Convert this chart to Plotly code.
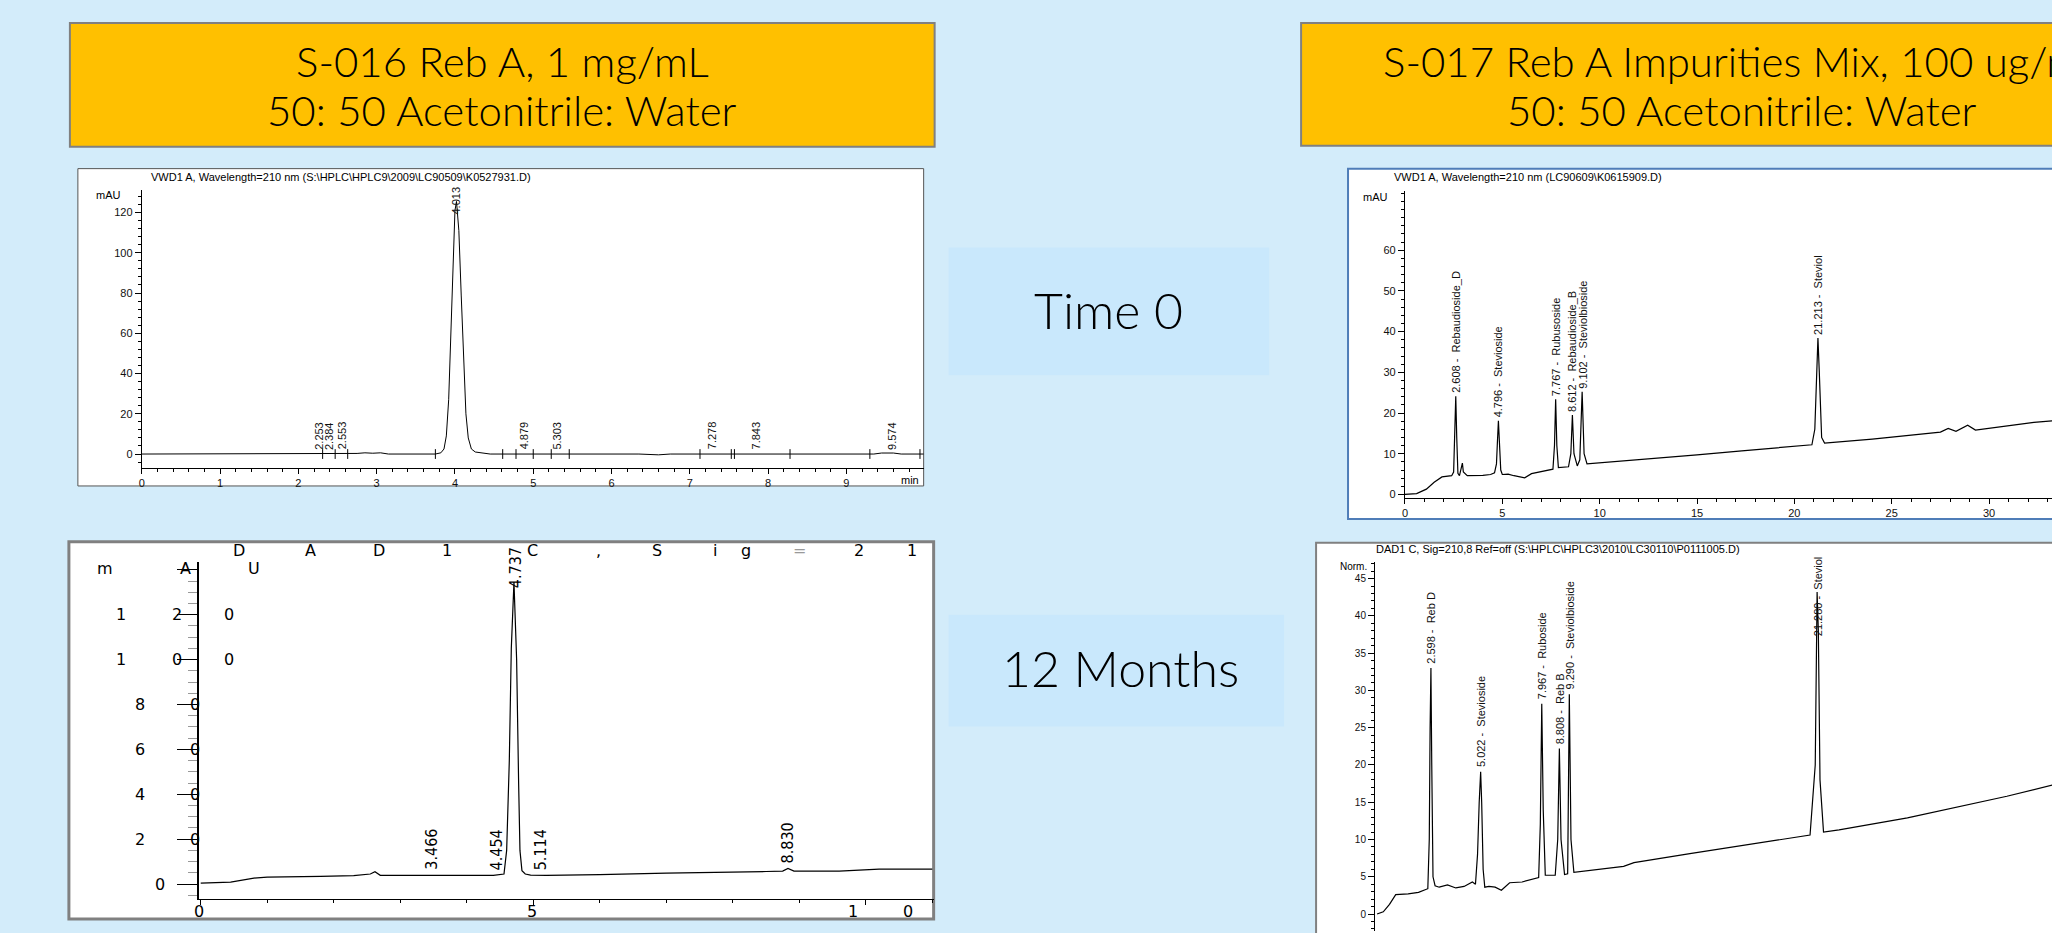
import plotly.graph_objects as go

W, H = 2052, 933

BG = "#D3ECFA"
HEADER_FILL = "#FFC000"
HEADER_EDGE = "#808080"
TAG_FILL = "#C9E8FC"
PLOT_FONT = "Liberation Sans, Arial, sans-serif"
NARROW_FONT = "Liberation Sans Narrow, DejaVu Sans Condensed, Liberation Sans, sans-serif"
WIDE_FONT = "DejaVu Sans, sans-serif"
POSTER_FONT = "Lato, Noto Sans, sans-serif"

# ---- Time 0: S-016 Reb A 1 mg/mL (VWD1 A, 210 nm), minutes / mAU ----
reba_t0_time = [0.0, 2.0, 2.6, 2.75, 2.85, 2.95, 3.05, 3.15, 3.75, 3.82, 3.86, 3.89,
                3.92, 3.95, 3.98, 4.00, 4.02, 4.05, 4.08, 4.11, 4.14, 4.17, 4.21, 4.26,
                4.35, 4.45, 6.35, 6.50, 6.60, 6.75, 9.35, 9.45, 9.60, 9.70, 9.99]
reba_t0_mau = [0.0, 0.0, 0.0, 0.3, 0.6, 0.4, 0.6, 0.0, 0.0, 0.6, 2.5, 9.0,
               27.0, 62.0, 101.0, 121.0, 125.5, 111.0, 79.0, 44.0, 20.0, 8.0, 2.5, 1.0,
               0.4, 0.0, 0.0, -0.4, -0.4, 0.0, 0.0, 0.5, 0.5, 0.0, 0.0]
reba_t0_minor_rt = ["2.253", "2.384", "2.553", "4.879", "5.303", "7.278", "7.843", "9.574"]
reba_t0_main_rt = "4.013"
reba_t0_marks = [2.31, 2.47, 2.63, 3.75, 4.61, 4.78, 5.00, 5.23, 5.46, 7.13, 7.53,
                 7.57, 8.28, 9.30, 9.94]

# ---- 12 months: S-016 Reb A (DAD1 C, Sig=210) ----
reba_12m_time = [0.0, 0.45, 0.8, 1.0, 1.8, 2.3, 2.55, 2.62, 2.70, 3.0, 4.4, 4.56,
                 4.60, 4.64, 4.67, 4.71, 4.75, 4.78, 4.80, 4.83, 4.88, 4.96, 5.2, 6.0,
                 7.0, 8.5, 8.75, 8.83, 8.92, 9.6, 10.2, 11.0]
reba_12m_mau = [0.4, 0.9, 2.7, 3.1, 3.4, 3.8, 4.5, 5.5, 3.9, 3.9, 3.9, 4.5,
                15.0, 55.0, 105.0, 134.5, 100.0, 45.0, 15.0, 6.0, 4.5, 4.0, 3.9, 4.2,
                4.9, 5.6, 5.8, 7.0, 5.8, 5.8, 6.7, 6.7]
reba_12m_minor_rt = ["3.466", "4.454", "5.114", "8.830"]
reba_12m_main_rt = "4.737"

# ---- Time 0: S-017 Reb A impurities mix (VWD1 A, 210 nm) ----
mix_t0_time = [0.0, 0.6, 1.1, 1.5, 1.9, 2.4, 2.50, 2.56, 2.61, 2.66, 2.72, 2.80,
               2.90, 2.95, 3.00, 3.2, 4.0, 4.4, 4.6, 4.70, 4.75, 4.80, 4.85, 4.92,
               5.0, 5.3, 5.6, 6.15, 6.5, 7.6, 7.68, 7.74, 7.80, 7.88, 8.4, 8.52,
               8.60, 8.68, 8.85, 8.98, 9.10, 9.20, 9.35, 12.0, 15.0, 17.3, 20.9, 21.05,
               21.15, 21.21, 21.28, 21.40, 21.55, 24.0, 27.5, 27.9, 28.3, 28.9, 29.3, 30.8,
               32.3, 33.3]
mix_t0_mau = [0.0, 0.2, 1.3, 3.0, 4.3, 4.6, 5.5, 14.0, 24.1, 14.0, 5.2, 4.6,
              6.5, 7.7, 5.5, 4.6, 4.7, 4.9, 5.3, 7.5, 13.0, 18.1, 13.0, 6.0,
              4.9, 5.0, 4.6, 4.1, 5.1, 6.2, 12.0, 23.4, 12.0, 6.6, 6.8, 10.0,
              19.5, 10.0, 7.0, 8.5, 25.2, 10.0, 7.5, 8.5, 9.7, 10.7, 12.2, 16.0,
              32.0, 38.4, 30.0, 14.0, 12.6, 13.6, 15.3, 16.2, 15.5, 17.0, 15.8, 16.8,
              17.7, 18.1]
mix_t0_rt = ["2.608", "4.796", "7.767", "8.612", "9.102", "21.213"]
mix_t0_names = ["Rebaudioside_D", "Stevioside", "Rubusoside", "Rebaudioside_B",
                "Steviolbioside", "Steviol"]

# ---- 12 months: S-017 Reb A impurities mix (DAD1 C, Sig=210,8) ----
mix_12m_time = [0.0, 0.3, 0.6, 0.9, 1.5, 2.0, 2.45, 2.52, 2.56, 2.60, 2.64, 2.70,
                2.80, 3.0, 3.4, 3.8, 4.2, 4.6, 4.75, 4.85, 4.93, 5.00, 5.05, 5.12,
                5.2, 5.4, 5.7, 6.0, 6.4, 7.0, 7.8, 7.88, 7.95, 8.02, 8.12, 8.6,
                8.72, 8.80, 8.88, 9.05, 9.2, 9.28, 9.36, 9.5, 11.9, 12.4, 15.1, 18.0,
                20.9, 21.15, 21.24, 21.30, 21.38, 21.55, 22.3, 25.6, 28.0, 30.4, 32.6]
mix_12m_norm = [0.0, 0.3, 1.3, 2.6, 2.7, 2.9, 3.4, 10.0, 25.0, 33.0, 20.0, 5.0,
                3.8, 3.6, 3.9, 3.5, 3.7, 4.3, 4.0, 8.0, 15.0, 19.1, 15.0, 6.0,
                3.6, 3.7, 3.6, 3.2, 4.2, 4.3, 4.9, 12.0, 28.2, 14.0, 5.2, 5.2,
                10.0, 22.2, 10.0, 5.3, 5.4, 29.5, 10.0, 5.6, 6.4, 6.9, 8.1, 9.3,
                10.6, 20.0, 43.2, 38.0, 18.0, 11.0, 11.3, 12.9, 14.3, 15.8, 17.3]
mix_12m_rt = ["2.598", "5.022", "7.967", "8.808", "9.290", "21.280"]
mix_12m_names = ["Reb D", "Stevioside", "Ruboside", "Reb B", "Steviolbioside", "Steviol"]

fig = go.Figure()


def X(px):
    return px / W


def Y(py):
    return 1 - py / H


def box(x0, y0, x1, y1, fill, edge=None, width=0):
    fig.add_shape(type="rect", xref="paper", yref="paper", layer="below",
                  x0=X(x0), x1=X(x1), y0=Y(y1), y1=Y(y0), fillcolor=fill,
                  line=dict(color=edge or fill, width=width))


def note(s, x, y, size, family=PLOT_FONT, color="black", weight="normal"):
    fig.add_annotation(text=s, x=X(x), y=Y(y), xref="paper", yref="paper",
                       xanchor="center", yanchor="middle", showarrow=False,
                       font=dict(size=size, family=family, color=color, weight=weight))


def level_at(times, values, rt, window=0.15):
    near = [v for t, v in zip(times, values) if abs(t - rt) < window]
    if near:
        return max(near)
    nearest = min(range(len(times)), key=lambda i: abs(times[i] - rt))
    return values[nearest]


def axis(**kw):
    base = dict(showgrid=False, zeroline=False, showline=True, linecolor="black",
                linewidth=1, ticks="outside", tickcolor="black", fixedrange=True,
                tickfont=dict(size=11, family=PLOT_FONT, color="#111"))
    base.update(kw)
    return base


# ---- poster furniture ----
box(67, 23, 933, 147, HEADER_FILL, HEADER_EDGE, 2)
box(1300, 23, 2190, 146, HEADER_FILL, HEADER_EDGE, 2)
note("S-016 Reb A, 1 mg/mL", 500, 61, 42, POSTER_FONT, weight=300)
note("50: 50 Acetonitrile: Water", 500, 110, 42, POSTER_FONT, weight=300)
note("S-017 Reb A Impurities Mix, 100 ug/mL", 1742, 61, 42, POSTER_FONT, weight=300)
note("50: 50 Acetonitrile: Water", 1742, 110, 42, POSTER_FONT, weight=300)

box(947, 248, 1268, 376, TAG_FILL)
box(947, 616, 1283, 728, TAG_FILL)
note("Time 0", 1107, 311, 50, POSTER_FONT, weight=300)
note("12 Months", 1119, 669, 50, POSTER_FONT, weight=300)

# ---- panel 1: time 0, Reb A ----
box(75, 169, 922, 487, "white", "#555555", 1)
note("VWD1 A, Wavelength=210 nm (S:\\HPLC\\HPLC9\\2009\\LC90509\\K0527931.D)",
     338, 177, 11)
note("mAU", 106, 195, 11)
note("min", 908, 481, 11)
fig.add_trace(go.Scatter(x=reba_t0_time, y=reba_t0_mau, mode="lines",
                         line=dict(color="black", width=1), xaxis="x", yaxis="y",
                         showlegend=False, hoverinfo="skip"))
fig.add_trace(go.Scatter(x=reba_t0_marks, y=[0] * len(reba_t0_marks), mode="markers",
                         marker=dict(symbol="line-ns", size=7,
                                     line=dict(color="black", width=1)),
                         xaxis="x", yaxis="y", showlegend=False, hoverinfo="skip"))
for rt in reba_t0_minor_rt:
    fig.add_annotation(text=rt, x=float(rt), y=1.2, xref="x", yref="y", textangle=-90,
                       yanchor="bottom", showarrow=False,
                       font=dict(size=11, family=PLOT_FONT, color="#111"))
fig.add_annotation(text=reba_t0_main_rt, x=float(reba_t0_main_rt), y=118, xref="x",
                   yref="y", textangle=-90, yanchor="bottom", showarrow=False,
                   font=dict(size=11, family=PLOT_FONT, color="#111"))

# ---- panel 2: 12 months, Reb A (stretched print-out) ----
BL_TOP = 563
box(66, 543, 932, 921, "white", HEADER_EDGE, 3)
fig.add_trace(go.Scatter(x=reba_12m_time, y=reba_12m_mau, mode="lines",
                         line=dict(color="black", width=1.2), xaxis="x2", yaxis="y2",
                         showlegend=False, hoverinfo="skip"))
for rt in reba_12m_minor_rt:
    fig.add_annotation(text=rt, x=float(rt), y=level_at(reba_12m_time, reba_12m_mau,
                                                       float(rt), 0.05) + 1.5,
                       xref="x2", yref="y2", textangle=-90, yanchor="bottom",
                       showarrow=False,
                       font=dict(size=16, family=NARROW_FONT, color="black"))
fig.add_annotation(text=reba_12m_main_rt, x=float(reba_12m_main_rt), y=131, xref="x2",
                   yref="y2", textangle=-90, yanchor="bottom", showarrow=False,
                   font=dict(size=16, family=NARROW_FONT, color="black"))
title_chars = ["D", "A", "D", "1", "C", ",", "S", "i", "g", "=", "2", "1"]
title_x = [236, 308, 377, 445, 530, 596, 655, 713, 744, 798, 857, 910]
for ch, cx in zip(title_chars, title_x):
    note(ch, cx, 552, 16, WIDE_FONT, "#999" if ch == "=" else "black")
for ch, cx in zip(["m", "A", "U"], [102, 183, 251]):
    note(ch, cx, 570, 16, WIDE_FONT)
for val in [0, 20, 40, 60, 80, 100, 120]:
    yy = 886 - 2.25 * val
    digits = str(val)
    if val == 0:
        note("0", 157, yy, 16, WIDE_FONT)
    elif val < 100:
        note(digits[0], 137, yy, 16, WIDE_FONT)
        note(digits[1], 192, yy, 16, WIDE_FONT)
    else:
        for ch, cx in zip(digits, [118, 174, 226]):
            note(ch, cx, yy, 16, WIDE_FONT)
note("0", 196, 913, 16, WIDE_FONT)
note("5", 530, 913, 16, WIDE_FONT)
note("1", 851, 913, 16, WIDE_FONT)
note("0", 906, 913, 16, WIDE_FONT)

# ---- panel 3: time 0, impurities mix ----
box(1347, 169, 2100, 520, "white", "#4F7DB8", 2)
note("VWD1 A, Wavelength=210 nm (LC90609\\K0615909.D)", 1527, 177, 11)
note("mAU", 1375, 197, 11)
fig.add_trace(go.Scatter(x=mix_t0_time, y=mix_t0_mau, mode="lines",
                         line=dict(color="black", width=1.2), xaxis="x3", yaxis="y3",
                         showlegend=False, hoverinfo="skip"))
for rt, name in zip(mix_t0_rt, mix_t0_names):
    top = level_at(mix_t0_time, mix_t0_mau, float(rt))
    fig.add_annotation(text=f"{rt} -  {name}", x=float(rt), y=top + 0.3, xref="x3",
                       yref="y3", textangle=-90, yanchor="bottom", showarrow=False,
                       font=dict(size=11, family=PLOT_FONT, color="#111"))

# ---- panel 4: 12 months, impurities mix ----
box(1315, 544, 2100, 940, "white", HEADER_EDGE, 2)
note("DAD1 C, Sig=210,8 Ref=off (S:\\HPLC\\HPLC3\\2010\\LC30110\\P0111005.D)",
     1557, 550, 11)
note("Norm.", 1352, 568, 10)
fig.add_trace(go.Scatter(x=mix_12m_time, y=mix_12m_norm, mode="lines",
                         line=dict(color="black", width=1.2), xaxis="x4", yaxis="y4",
                         showlegend=False, hoverinfo="skip"))
for rt, name in zip(mix_12m_rt, mix_12m_names):
    top = level_at(mix_12m_time, mix_12m_norm, float(rt))
    fig.add_annotation(text=f"{rt} -  {name}", x=float(rt), y=min(top + 0.3, 37),
                       xref="x4", yref="y4", textangle=-90, yanchor="bottom",
                       showarrow=False, font=dict(size=11, family=PLOT_FONT, color="#111"))

fig.update_layout(
    width=W, height=H, margin=dict(l=0, r=0, t=0, b=0),
    paper_bgcolor=BG, plot_bgcolor="rgba(0,0,0,0)", showlegend=False,
    xaxis=axis(domain=[X(139), X(922)], range=[0, 9.987], anchor="y", dtick=1,
               ticklen=5, minor=dict(dtick=0.2, ticklen=3, ticks="outside",
                                     tickcolor="black")),
    yaxis=axis(domain=[Y(469), Y(190)], range=[-6.94, 131.4], anchor="x", dtick=20,
               tick0=0, ticklen=6, minor=dict(dtick=4, tick0=0, ticklen=3,
                                              ticks="outside", tickcolor="black")),
    xaxis2=axis(domain=[X(196), X(932)], range=[-0.03, 11.02], anchor="y2", dtick=5,
                ticklen=5, showticklabels=False,
                minor=dict(dtick=1, ticklen=3, ticks="outside", tickcolor="black")),
    yaxis2=axis(domain=[Y(901), Y(BL_TOP)], range=[(886 - 901) / 2.25, (886 - BL_TOP) / 2.25],
                anchor="x2", dtick=20, tick0=0, ticklen=20, linewidth=2,
                showticklabels=False,
                minor=dict(dtick=5, tick0=0, ticklen=9, ticks="outside",
                           tickcolor="#999999")),
    xaxis3=axis(domain=[X(1404), 1], range=[0, (W - 1404) / 19.5], anchor="y3", dtick=5,
                ticklen=5, minor=dict(dtick=1, ticklen=3, ticks="outside",
                                      tickcolor="black")),
    yaxis3=axis(domain=[Y(499), Y(191)], range=[(495.5 - 499) / 4.08, (495.5 - 191) / 4.08],
                anchor="x3", tickvals=[0, 10, 20, 30, 40, 50, 60], ticklen=6,
                minor=dict(dtick=2, tick0=0, ticklen=3, ticks="outside",
                           tickcolor="black")),
    xaxis4=axis(domain=[X(1374), 1], range=[-0.1, (W - 1376) / 20.75], anchor="y4",
                showline=False, ticks="", showticklabels=False),
    yaxis4=axis(domain=[0, Y(563)], range=[(916 - 933) / 7.47, (916 - 563) / 7.47],
                anchor="x4", tickvals=[0, 5, 10, 15, 20, 25, 30, 35, 40, 45], ticklen=6,
                tickfont=dict(size=10, family=PLOT_FONT, color="#111"),
                minor=dict(dtick=1, tick0=0, ticklen=3, ticks="outside",
                           tickcolor="black")),
)

# the page body has a default 8px margin; drop it so the figure sits at the corner
fig.write_html(
    "out.html",
    config={"displayModeBar": False},
    post_script=(
        "document.body.style.margin='0';"
        "document.body.style.background='" + BG + "';"
        "document.documentElement.style.overflow='hidden';"
    ),
)
